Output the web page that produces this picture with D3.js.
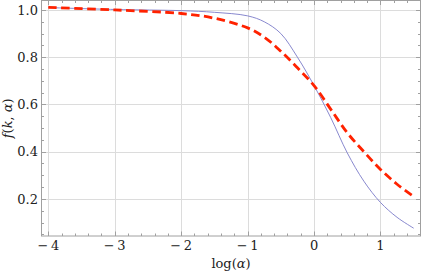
<!DOCTYPE html>
<html>
<head>
<meta charset="utf-8">
<script src="https://cdn.jsdelivr.net/npm/d3@7"></script>
<style>
  body { margin: 0; background: #fff; }
  svg { display: block; }
</style>
</head>
<body>
<svg width="422" height="273"></svg>
<script>
// values
const logAlpha = [-4, -3, -2, -1.5, -1, -0.75, -0.5, -0.25, 0, 0.25, 0.5, 0.75, 1, 1.25, 1.5]
const fSolid = [1.010, 1.002, 0.997, 0.990, 0.975, 0.950, 0.900, 0.800, 0.680, 0.545, 0.395, 0.275, 0.185, 0.122, 0.076]
const fDashed = [1.011, 1.000, 0.985, 0.965, 0.924, 0.885, 0.825, 0.755, 0.680, 0.580, 0.480, 0.400, 0.325, 0.262, 0.210]
const xTicks = [-4, -3, -2, -1, 0, 1]
const yTicks = [0.2, 0.4, 0.6, 0.8, 1.0]

const serif = "DejaVu Serif"
const svg = d3.select("svg")

const pLeft = 41, pRight = 421, pTop = 0.5, pBottom = 236

const x = d3.scaleLinear().domain([-4.11, 1.61]).range([pLeft, pRight])
const y = d3.scaleLinear().domain([0.043, 1.04]).range([pBottom, pTop])

const minorX = d3.range(-4.2, 1.61, 0.2).filter(v => v > -4.11 && Math.abs(v - Math.round(v)) > 1e-6)
const minorY = d3.range(0.05, 1.04, 0.05).filter(v => Math.abs(v * 5 - Math.round(v * 5)) > 1e-6)

// grid
const grid = svg.append("g").attr("stroke", "#dcdcdc").attr("stroke-width", 1)
grid.selectAll("line.gx").data(xTicks).enter().append("line")
  .attr("x1", d => Math.round(x(d)) + 0.5).attr("x2", d => Math.round(x(d)) + 0.5)
  .attr("y1", pTop).attr("y2", pBottom)
grid.selectAll("line.gy").data(yTicks).enter().append("line")
  .attr("y1", d => Math.round(y(d)) + 0.5).attr("y2", d => Math.round(y(d)) + 0.5)
  .attr("x1", pLeft).attr("x2", pRight)

// frame with inward ticks
const frame = svg.append("g").attr("stroke", "#a0a0a0").attr("stroke-width", 1).attr("fill", "none")
frame.append("rect").attr("x", pLeft + 0.5).attr("y", pTop).attr("width", pRight - pLeft - 1).attr("height", pBottom - pTop)

const tick = (vals, len, axis) => {
  vals.forEach(v => {
    if (axis === "x") {
      const px = Math.round(x(v)) + 0.5
      frame.append("line").attr("x1", px).attr("x2", px).attr("y1", pBottom).attr("y2", pBottom - len)
      frame.append("line").attr("x1", px).attr("x2", px).attr("y1", pTop).attr("y2", pTop + len)
    } else {
      const py = Math.round(y(v)) + 0.5
      frame.append("line").attr("y1", py).attr("y2", py).attr("x1", pLeft + 0.5).attr("x2", pLeft + 0.5 + len)
      frame.append("line").attr("y1", py).attr("y2", py).attr("x1", pRight - 0.5).attr("x2", pRight - 0.5 - len)
    }
  })
}
tick(xTicks, 4.5, "x")
tick(minorX, 2.5, "x")
tick(yTicks, 4.5, "y")
tick(minorY, 2.5, "y")

// tick labels
const fmtX = d => d < 0 ? "\u2212\u2009" + Math.abs(d) : String(d)
svg.append("g").selectAll("text").data(xTicks).enter().append("text")
  .attr("x", d => x(d)).attr("y", 249.5)
  .attr("font-family", serif)
  .attr("text-anchor", "middle").attr("font-size", 13).attr("fill", "#222")
  .text(fmtX)
svg.append("g").selectAll("text").data(yTicks).enter().append("text")
  .attr("x", 38).attr("y", d => y(d) + 4.6)
  .attr("font-family", serif)
  .attr("text-anchor", "end").attr("font-size", 13).attr("fill", "#222")
  .text(d3.format(".1f"))

// axis titles
const xt = svg.append("text").attr("x", (pLeft + pRight) / 2).attr("y", 268)
  .attr("font-family", serif)
  .attr("text-anchor", "middle").attr("font-size", 13).attr("fill", "#222")
xt.append("tspan").text("log(")
xt.append("tspan").attr("font-style", "italic").text("α")
xt.append("tspan").text(")")

const yt = svg.append("text").attr("transform", `translate(12,${(pTop + pBottom) / 2}) rotate(-90)`)
  .attr("font-family", serif)
  .attr("text-anchor", "middle").attr("font-size", 13).attr("fill", "#222")
yt.append("tspan").attr("font-style", "italic").text("f")
yt.append("tspan").text("(")
yt.append("tspan").attr("font-style", "italic").text("k")
yt.append("tspan").text(", ")
yt.append("tspan").attr("font-style", "italic").text("α")
yt.append("tspan").text(")")

// curves
const line = ys => d3.line()
  .x((d, i) => x(logAlpha[i]))
  .y(d => y(d))
  .curve(d3.curveCatmullRom.alpha(0.5))(ys)

svg.append("path").attr("d", line(fSolid))
  .attr("fill", "none").attr("stroke", "#7b7bc8").attr("stroke-width", 0.9)

svg.append("path").attr("d", line(fDashed))
  .attr("fill", "none").attr("stroke", "#ff2200").attr("stroke-width", 2.8)
  .attr("stroke-dasharray", "8.5,4.5")
</script>
</body>
</html>
